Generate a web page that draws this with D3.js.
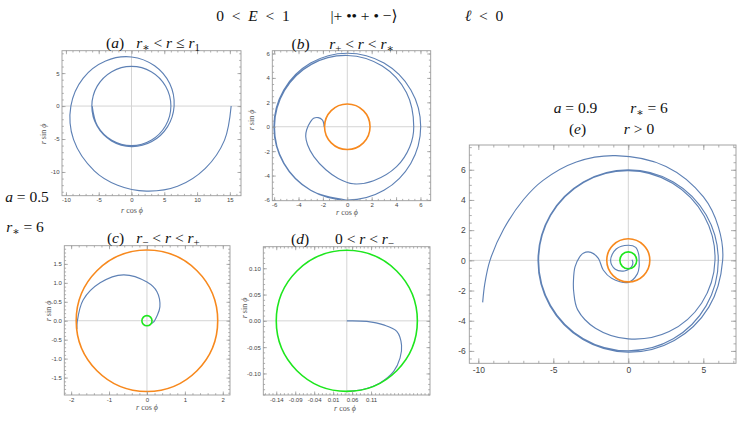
<!DOCTYPE html>
<html><head><meta charset="utf-8">
<script src="https://cdn.jsdelivr.net/npm/d3@7"></script>
<style>body{margin:0;background:#fff}svg{display:block;background:#fff}</style>
</head><body>
<svg id="c" width="747" height="421"></svg>
<script>
// ---------------- data ----------------
// horizon radii r+ (orange) and r- (green)
const horizonsA = { rPlus: 1.866, rMinus: 0.134 };
const horizonsE = { rPlus: 1.436, rMinus: 0.564 };

// orbits as [phi in degrees, r]
const orbitA = [[0,15.2],[-20,15.1],[-40,14.7],[-60,14.05],[-80,13.1],[-100,12.2],[-120,11.35],[-150,10.2],[-180,9.25],
  [-210,8.5],[-240,7.9],[-270,7.45],[-300,7.05],[-330,6.75],[-360,6.5],[-390,6.33],[-420,6.22],[-450,6.15],[-480,6.1],
  [-510,6.07],[-540,6.05],[-570,6.04],[-600,6.03],[-630,6.02],[-660,6.02],[-690,6.01],[-720,6.01],[-750,6.0],[-780,6.0],
  [-810,6.0],[-840,6.0],[-870,6.0],[-900,6.0]];
const orbitB = [[180,1.9],[170,1.98],[164.5,2.13],[162.6,2.5],[166,2.85],[171.7,3.03],[184.3,3.34],[193,3.5],[204.4,3.58],
  [221.8,3.68],[243.5,3.94],[260,4.3],[276,4.7],[296,4.92],[321,5.2],[342,5.38],[360,5.45],[390,5.6],[420,5.74],[450,5.84],
  [480,5.9],[510,5.94],[540,5.97],[570,5.99],[600,6.0],[630,6.0],[660,6.01],[690,6.01],[720,6.02],[750,6.02],[780,6.02],
  [810,6.02],[840,6.02],[870,6.02],[900,6.02],[930,6.02],[960,6.02],[990,6.02]];
const orbitC = [[-35,0.14],[-10,0.18],[0,0.2],[23,0.28],[47,0.5],[71,0.81],[90,1.02],[117,1.36],[141,1.59],[162,1.77],[181,1.84],[187,1.86]];
const orbitD = [[0,0],[-1.5,0.038],[-6.2,0.0704],[-11.9,0.097],[-23.9,0.1137],[-35.1,0.1235],[-47.2,0.131],[-61.9,0.1338],[-76.2,0.1339],[-90,0.134]];
const orbitE = [[196,10.1],[189,9.68],[180,9.22],[166,8.56],[150,8.06],[137,7.77],[118,7.38],[97,6.99],[68,6.71],[40,6.54],
  [20,6.4],[0,6.29],[-30,6.2],[-60,6.13],[-90,6.08],[-120,6.05],[-150,6.03],[-180,6.02],[-210,6.01],[-240,6.0],[-270,6.0],
  [-300,6.0],[-330,6.0],[-360,6.0],[-390,6.0],[-420,6.0],[-450,5.99],[-480,5.99],[-510,5.98],[-540,5.98],[-570,5.97],
  [-600,5.96],[-630,5.94],[-660,5.9],[-690,5.85],[-720,5.78],[-750,5.65],[-780,5.45],[-810,5.2],[-836,5.0],[-856,4.7],
  [-870,4.2],[-880,3.89],[-893,3.58],[-904,3.25],[-909,3.04],[-912,2.55],[-903.7,2.0],[-879,1.79],[-853,1.63],[-810,1.46],
  [-776,1.08],[-748,0.82],[-720,0.72],[-690,0.8],[-660,0.99],[-630,1.0],[-583,1.1],[-540,1.18],[-506,1.05],[-470,0.75],
  [-440,0.55],[-410,0.42],[-380,0.32],[-350,0.25]];

// tick values and labels
const ticksAx = [-10,-5,0,5,10,15], ticksAy = [-10,-5,0,5];
const ticksBx = [-6,-4,-2,0,2,4,6], ticksBy = [-6,-4,-2,0,2,4,6];
const ticksCx = [-2,-1,0,1,2], ticksCy = [-1.5,-1.0,-0.5,0.0,0.5,1.0,1.5];
const ticksDxAt = [-0.134,-0.098,-0.062,-0.026,0.010,0.046];
const ticksDxLabels = ["-0.14","-0.09","-0.04","0.01","0.06","0.11"];
const ticksDy = [-0.10,-0.05,0.00,0.05,0.10];
const ticksEx = [-10,-5,0,5], ticksEy = [-6,-4,-2,0,2,4,6];

// ---------------- drawing ----------------
const svg = d3.select('#c');
const BLUE = '#5e81b5', ORANGE = '#f7891e', GREEN = '#1ee61e';
const SERIF = '"Liberation Serif","DejaVu Serif",serif';
const SANS = '"Liberation Sans",Arial,sans-serif';
const minus = s => String(s).replace('\u2212','-');

function mtext(x, y, parts, size, anchor, rotate) {
  const t = svg.append('text').attr('x', x).attr('y', y)
    .attr('font-family', SERIF).attr('font-size', size)
    .attr('text-anchor', anchor || 'middle').attr('fill', '#111');
  if (rotate) t.attr('transform', `rotate(${rotate},${x},${y})`);
  let shift = 0;
  parts.forEach(([s, k]) => {
    const sp = t.append('tspan').text(s);
    let target = 0;
    if (k === 'i') sp.attr('font-style', 'italic');
    if (k === 'sub' || k === 'isub') { sp.attr('font-size', size * 0.7); target = size * 0.22; if (k==='isub') sp.attr('font-style','italic'); }
    if (target !== shift) { sp.attr('dy', target - shift); shift = target; }
  });
  return t;
}

function panel(c) {
  const [x0, x1, y0, y1] = c.f;
  const x = d3.scaleLinear().domain(c.xd).range([x0, x1]);
  const y = d3.scaleLinear().domain(c.yd).range([y1, y0]);
  const g = svg.append('g');
  const id = 'clip' + c.name;
  g.append('clipPath').attr('id', id).append('rect').attr('x', x0).attr('y', y0).attr('width', x1 - x0).attr('height', y1 - y0);
  // zero axes
  g.append('line').attr('x1', x(0)).attr('x2', x(0)).attr('y1', y0).attr('y2', y1).attr('stroke', '#d4d4d4').attr('stroke-width', 1);
  g.append('line').attr('x1', x0).attr('x2', x1).attr('y1', y(0)).attr('y2', y(0)).attr('stroke', '#d4d4d4').attr('stroke-width', 1);
  const pg = g.append('g').attr('clip-path', `url(#${id})`);
  const line = d3.line().curve(d3.curveCatmullRom.alpha(0.5))
    .x(d => x(d[1] * Math.cos(d[0] * Math.PI / 180)))
    .y(d => y(d[1] * Math.sin(d[0] * Math.PI / 180)));
  pg.append('path').attr('d', line(c.orbit)).attr('fill', 'none').attr('stroke', BLUE).attr('stroke-width', 1.15).attr('stroke-linejoin','round');
  if (c.rPlus) pg.append('circle').attr('cx', x(0)).attr('cy', y(0)).attr('r', x(c.rPlus) - x(0)).attr('fill', 'none').attr('stroke', ORANGE).attr('stroke-width', 1.6);
  if (c.rMinus) pg.append('circle').attr('cx', x(0)).attr('cy', y(0)).attr('r', x(c.rMinus) - x(0)).attr('fill', 'none').attr('stroke', GREEN).attr('stroke-width', 1.6);
  // frame & ticks
  const TC = '#9a9a9a';
  const style = sel => {
    sel.select('.domain').remove();
    sel.selectAll('line').attr('stroke', TC).attr('stroke-width', 0.8);
    sel.selectAll('text').attr('font-family', SANS).attr('font-size', c.fs).attr('fill', '#444');
  };
  const M = c.maj, m = c.min;
  const xf = c.xfmt, yf = c.yfmt;
  g.append('g').attr('transform', `translate(0,${y1})`).call(d3.axisBottom(x).tickValues(c.xt).tickSize(-M).tickPadding(c.pad).tickFormat(xf)).call(style);
  g.append('g').attr('transform', `translate(0,${y1})`).call(d3.axisBottom(x).tickValues(c.xm).tickSize(-m).tickFormat('')).call(style);
  g.append('g').attr('transform', `translate(0,${y0})`).call(d3.axisTop(x).tickValues(c.xt).tickSize(-M).tickFormat('')).call(style);
  g.append('g').attr('transform', `translate(0,${y0})`).call(d3.axisTop(x).tickValues(c.xm).tickSize(-m).tickFormat('')).call(style);
  g.append('g').attr('transform', `translate(${x0},0)`).call(d3.axisLeft(y).tickValues(c.yt).tickSize(-M).tickPadding(c.pad).tickFormat(yf)).call(style);
  g.append('g').attr('transform', `translate(${x0},0)`).call(d3.axisLeft(y).tickValues(c.ym).tickSize(-m).tickFormat('')).call(style);
  g.append('g').attr('transform', `translate(${x1},0)`).call(d3.axisRight(y).tickValues(c.yt).tickSize(-M).tickFormat('')).call(style);
  g.append('g').attr('transform', `translate(${x1},0)`).call(d3.axisRight(y).tickValues(c.ym).tickSize(-m).tickFormat('')).call(style);
  g.append('rect').attr('x', x0).attr('y', y0).attr('width', x1 - x0).attr('height', y1 - y0).attr('fill', 'none').attr('stroke', TC).attr('stroke-width', 0.9);
  if (c.xlab) {
    mtext(c.xlab[0], c.xlab[1], [['r','i'],[' cos ','n'],['\u03d5','i']], 8, 'middle').attr('fill', '#555');
    mtext(c.ylab[0], c.ylab[1], [['r','i'],[' sin ','n'],['\u03d5','i']], 8, 'middle', -90).attr('fill', '#555');
  }
}

const intF = d => minus(d3.format('d')(d));
panel({name:'a', f:[62,241,50.7,195.7], xd:[-10.6,16.7], yd:[-13.6,8.4], orbit: orbitA,
  xt: ticksAx, yt: ticksAy, xm: d3.range(-10,17,1), ym: d3.range(-13,9,1), xfmt:intF, yfmt:intF,
  fs: 6, pad: 2.5, maj: 3.5, min: 1.8, xlab:[132,213], ylab:[46,134]});
panel({name:'b', f:[272.3,430.7,50.7,200.7], xd:[-6.15,6.84], yd:[-6.06,6.23], orbit: orbitB, rPlus: horizonsA.rPlus,
  xt: ticksBx, yt: ticksBy, xm: d3.range(-6,7,0.5), ym: d3.range(-6,6.5,0.5), xfmt:intF, yfmt:intF,
  fs: 6, pad: 2.5, maj: 3.5, min: 1.8, xlab:[347,215], ylab:[254,120]});
panel({name:'c', f:[64.3,230,245.7,395], xd:[-2.18,2.19], yd:[-1.96,1.98], orbit: orbitC, rPlus: horizonsA.rPlus, rMinus: horizonsA.rMinus,
  xt: ticksCx, yt: ticksCy, xm: d3.range(-2,2.01,0.2), ym: d3.range(-1.9,1.95,0.1), xfmt:intF, yfmt: d => minus(d3.format('.1f')(d)),
  fs: 6, pad: 2.5, maj: 3.5, min: 1.8, xlab:[147,410], ylab:[51,311]});
panel({name:'d', f:[263.3,430,246.7,395], xd:[-0.1586,0.158], yd:[-0.141,0.141], orbit: orbitD, rMinus: horizonsA.rMinus,
  xt: ticksDxAt, yt: ticksDy, xm: d3.range(-0.1556,0.158,0.00722), ym: d3.range(-0.14,0.141,0.01),
  xfmt: (d,i) => ticksDxLabels[i], yfmt: d => minus(d3.format('.2f')(d)),
  fs: 6, pad: 2.5, maj: 3.5, min: 1.8, xlab:[345,411], ylab:[247,308]});
panel({name:'e', f:[469.3,736,145,363.3], xd:[-10.6,7.18], yd:[-6.82,7.64], orbit: orbitE, rPlus: horizonsE.rPlus, rMinus: horizonsE.rMinus,
  xt: ticksEx, yt: ticksEy, xm: d3.range(-10,8,1), ym: d3.range(-6.5,7.6,0.5), xfmt:intF, yfmt:intF,
  fs: 8.5, pad: 3.5, maj: 5, min: 2.5});

// titles
const TS = 15.5;
mtext(253, 21, [['0\u2002<\u2002','n'],['E','i'],['\u2002<\u20021','n']], TS);
mtext(364, 21, [['|+ \u2022\u2022 + \u2022 \u2212\u27e9','n']], TS);
mtext(484, 21, [['\u2113','i'],['\u2002<\u20020','n']], TS);

mtext(115, 48, [['(','n'],['a','i'],[')','n']], TS);
mtext(168, 48, [['r','i'],['\u2217','sub'],[' < ','n'],['r','i'],[' \u2264 ','n'],['r','i'],['1','sub']], TS);
mtext(300.5, 49, [['(','n'],['b','i'],[')','n']], TS);
mtext(361.5, 49, [['r','i'],['+','sub'],[' < ','n'],['r','i'],[' < ','n'],['r','i'],['\u2217','sub']], TS);
mtext(115.5, 243, [['(','n'],['c','i'],[')','n']], TS);
mtext(168, 243, [['r','i'],['\u2212','sub'],[' < ','n'],['r','i'],[' < ','n'],['r','i'],['+','sub']], TS);
mtext(300, 244, [['(','n'],['d','i'],[')','n']], TS);
mtext(364.5, 244, [['0 < ','n'],['r','i'],[' < ','n'],['r','i'],['\u2212','sub']], TS);

mtext(575.5, 113, [['a','i'],[' = 0.9','n']], TS);
mtext(649, 113, [['r','i'],['\u2217','sub'],[' = 6','n']], TS);
mtext(577.5, 134, [['(','n'],['e','i'],[')','n']], TS);
mtext(639, 134, [['r','i'],[' > 0','n']], TS);

mtext(27, 202, [['a','i'],[' = 0.5','n']], TS);
mtext(25, 232, [['r','i'],['\u2217','sub'],[' = 6','n']], TS);
</script>
</body></html>
